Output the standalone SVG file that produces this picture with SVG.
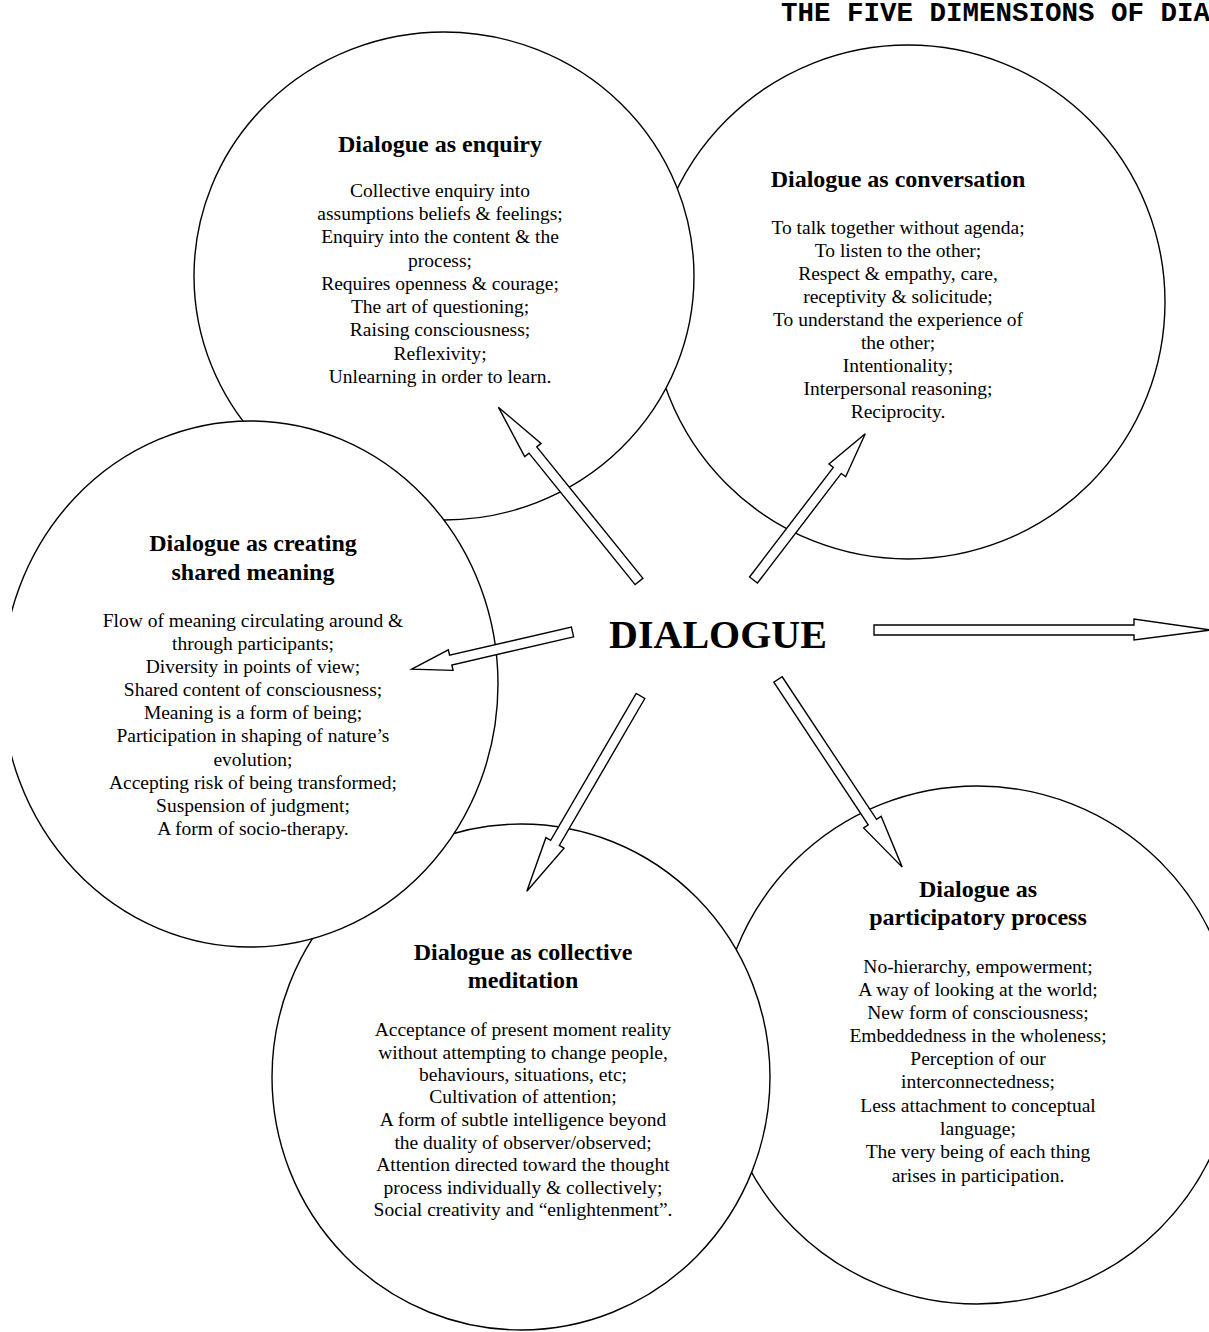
<svg xmlns="http://www.w3.org/2000/svg" width="1209" height="1332" viewBox="0 0 1209 1332">
<style>
.c{fill:#fff;stroke:#000;stroke-width:1.4}
.a{fill:#fff;stroke:#000;stroke-width:1.4;stroke-linejoin:miter}
.h{font-family:"Liberation Serif","Times New Roman",serif;font-weight:bold;font-size:24px;text-anchor:middle;fill:#000}
.b{font-family:"Liberation Serif","Times New Roman",serif;font-size:19.5px;text-anchor:middle;fill:#000}
.t{font-family:"Liberation Mono","Courier New",monospace;font-weight:bold;font-size:27.5px;fill:#000}
.m{font-family:"Liberation Serif","Times New Roman",serif;font-weight:bold;font-size:40px;text-anchor:middle;fill:#000}
</style>
<defs>
<clipPath id="pg"><rect x="12" y="0" width="1197" height="1332"/></clipPath>
</defs>
<rect width="1209" height="1332" fill="#fff"/>
<text class="t" x="781" y="21">THE FIVE DIMENSIONS OF DIALOGUE</text>

<g id="conversation">
<circle class="c" cx="908" cy="302" r="257"/>
<text class="h" x="898" y="187">Dialogue as conversation</text>
<text class="b" x="898" y="234">To talk together without agenda;</text>
<text class="b" x="898" y="257">To listen to the other;</text>
<text class="b" x="898" y="280">Respect &amp; empathy, care,</text>
<text class="b" x="898" y="303">receptivity &amp; solicitude;</text>
<text class="b" x="898" y="326">To understand the experience of</text>
<text class="b" x="898" y="349">the other;</text>
<text class="b" x="898" y="372">Intentionality;</text>
<text class="b" x="898" y="395">Interpersonal reasoning;</text>
<text class="b" x="898" y="418">Reciprocity.</text>
</g>

<g id="enquiry">
<ellipse class="c" cx="444" cy="276" rx="250" ry="244"/>
<text class="h" x="440" y="152">Dialogue as enquiry</text>
<text class="b" x="440" y="197">Collective enquiry into</text>
<text class="b" x="440" y="220">assumptions beliefs &amp; feelings;</text>
<text class="b" x="440" y="243">Enquiry into the content &amp; the</text>
<text class="b" x="440" y="267">process;</text>
<text class="b" x="440" y="290">Requires openness &amp; courage;</text>
<text class="b" x="440" y="313">The art of questioning;</text>
<text class="b" x="440" y="336">Raising consciousness;</text>
<text class="b" x="440" y="360">Reflexivity;</text>
<text class="b" x="440" y="383">Unlearning in order to learn.</text>
</g>

<g id="participatory">
<circle class="c" cx="977" cy="1045" r="259"/>
<text class="h" x="978" y="897">Dialogue as</text>
<text class="h" x="978" y="925">participatory process</text>
<text class="b" x="978" y="973">No-hierarchy, empowerment;</text>
<text class="b" x="978" y="996">A way of looking at the world;</text>
<text class="b" x="978" y="1019">New form of consciousness;</text>
<text class="b" x="978" y="1042">Embeddedness in the wholeness;</text>
<text class="b" x="978" y="1065">Perception of our</text>
<text class="b" x="978" y="1088">interconnectedness;</text>
<text class="b" x="978" y="1112">Less attachment to conceptual</text>
<text class="b" x="978" y="1135">language;</text>
<text class="b" x="978" y="1158">The very being of each thing</text>
<text class="b" x="978" y="1182">arises in participation.</text>
</g>

<g id="meditation">
<ellipse class="c" cx="521" cy="1077" rx="249" ry="253"/>
<text class="h" x="523" y="960">Dialogue as collective</text>
<text class="h" x="523" y="988">meditation</text>
<text class="b" x="523" y="1036">Acceptance of present moment reality</text>
<text class="b" x="523" y="1059">without attempting to change people,</text>
<text class="b" x="523" y="1081">behaviours, situations, etc;</text>
<text class="b" x="523" y="1103">Cultivation of attention;</text>
<text class="b" x="523" y="1126">A form of subtle intelligence beyond</text>
<text class="b" x="523" y="1149">the duality of observer/observed;</text>
<text class="b" x="523" y="1171">Attention directed toward the thought</text>
<text class="b" x="523" y="1194">process individually &amp; collectively;</text>
<text class="b" x="523" y="1216">Social creativity and “enlightenment”.</text>
</g>

<g id="creating">
<ellipse class="c" cx="250" cy="684" rx="248" ry="263" clip-path="url(#pg)"/>
<text class="h" x="253" y="551">Dialogue as creating</text>
<text class="h" x="253" y="580">shared meaning</text>
<text class="b" x="253" y="627">Flow of meaning circulating around &amp;</text>
<text class="b" x="253" y="650">through participants;</text>
<text class="b" x="253" y="673">Diversity in points of view;</text>
<text class="b" x="253" y="696">Shared content of consciousness;</text>
<text class="b" x="253" y="719">Meaning is a form of being;</text>
<text class="b" x="253" y="742">Participation in shaping of nature’s</text>
<text class="b" x="253" y="766">evolution;</text>
<text class="b" x="253" y="789">Accepting risk of being transformed;</text>
<text class="b" x="253" y="812">Suspension of judgment;</text>
<text class="b" x="253" y="835">A form of socio-therapy.</text>
</g>

<g id="dialogue">
<text class="m" x="718" y="648">DIALOGUE</text>
</g>

<g id="connectors">
<polygon class="a" transform="translate(639,581.5) rotate(-128.9)" points="0,-5 169,-5 169,-10.5 224,0 169,10.5 169,5 0,5"/>
<polygon class="a" transform="translate(753.5,580) rotate(-52.6)" points="0,-5 138,-5 138,-10.5 184,0 138,10.5 138,5 0,5"/>
<polygon class="a" transform="translate(572.5,632) rotate(167)" points="0,-5 125,-5 125,-10.5 165,0 125,10.5 125,5 0,5"/>
<polygon class="a" points="874,625 1134,625 1134,619 1211,630 1134,640 1134,635 874,635"/>
<polygon class="a" transform="translate(640.5,696) rotate(120.2)" points="0,-5 170,-5 170,-10.5 226,0 170,10.5 170,5 0,5"/>
<polygon class="a" transform="translate(778,679.5) rotate(56.5)" points="0,-5 171,-5 171,-10.5 225,0 171,10.5 171,5 0,5"/>
</g>
</svg>
